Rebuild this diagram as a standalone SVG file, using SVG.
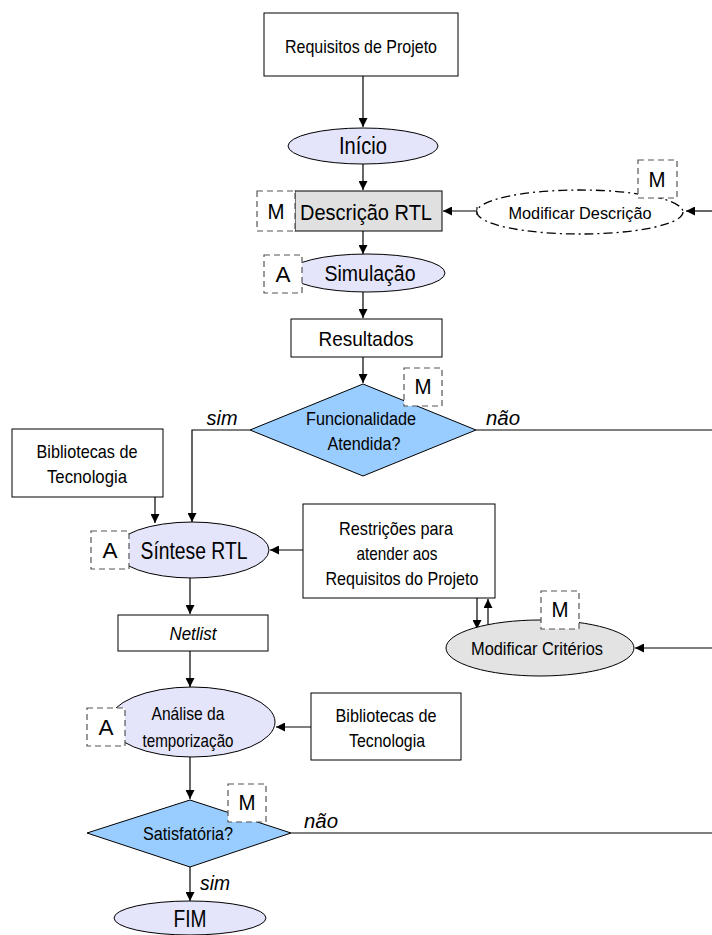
<svg xmlns="http://www.w3.org/2000/svg" width="712" height="935" viewBox="0 0 712 935">
  <style>
    text { font-family: "Liberation Sans", Arial, sans-serif; fill: #000; text-anchor: middle; dominant-baseline: central; }
    .box { fill: #fff; stroke: #000; stroke-width: 1; }
    .grey { fill: #e0e0e0; stroke: #000; stroke-width: 1; }
    .oval { fill: #e4e4fa; stroke: #000; stroke-width: 1; }
    .oval-grey { fill: #e3e3e3; stroke: #000; stroke-width: 1; }
    .diamond { fill: #99ccff; stroke: #000; stroke-width: 1; }
    .tag { fill: #fff; stroke: #555; stroke-width: 1.2; stroke-dasharray: 6 4; }
    .wire { fill: none; stroke: #000; stroke-width: 1.2; }
    .lbl { font-style: italic; font-size: 20px; }
  </style>
  <defs>
    <marker id="arrow" viewBox="0 0 10 10" refX="10" refY="5" markerWidth="9" markerHeight="9" markerUnits="userSpaceOnUse" orient="auto">
      <path d="M0,0 L10,5 L0,10 z" fill="#000"/>
    </marker>
  </defs>

  <!-- connectors -->
  <g id="connectors">
    <line class="wire" x1="363" y1="76" x2="363" y2="127" marker-end="url(#arrow)"/>
    <line class="wire" x1="363" y1="164" x2="363" y2="190" marker-end="url(#arrow)"/>
    <line class="wire" x1="363" y1="231" x2="363" y2="254" marker-end="url(#arrow)"/>
    <line class="wire" x1="363" y1="292" x2="363" y2="318" marker-end="url(#arrow)"/>
    <line class="wire" x1="363" y1="357" x2="363" y2="383" marker-end="url(#arrow)"/>
    <!-- Modificar Descrição -> Descrição RTL -->
    <line class="wire" x1="477" y1="211" x2="443" y2="211" marker-end="url(#arrow)"/>
    <line class="wire" x1="477" y1="207" x2="477" y2="215"/>
    <line class="wire" x1="712" y1="211" x2="686" y2="211" marker-end="url(#arrow)"/>
    <!-- sim / não branches -->
    <polyline class="wire" points="250,430 192,430 192,522" marker-end="url(#arrow)"/>
    <line class="wire" x1="476" y1="430" x2="712" y2="430"/>
    <line class="wire" x1="155" y1="497" x2="155" y2="523" marker-end="url(#arrow)"/>
    <line class="wire" x1="303" y1="550" x2="270" y2="550" marker-end="url(#arrow)"/>
    <line class="wire" x1="477" y1="598" x2="477" y2="629" marker-end="url(#arrow)"/>
    <line class="wire" x1="488" y1="625" x2="488" y2="599" marker-end="url(#arrow)"/>
    <line class="wire" x1="712" y1="648" x2="635" y2="648" marker-end="url(#arrow)"/>
    <line class="wire" x1="190" y1="578" x2="190" y2="614" marker-end="url(#arrow)"/>
    <line class="wire" x1="190" y1="651" x2="190" y2="687" marker-end="url(#arrow)"/>
    <line class="wire" x1="311" y1="727" x2="276" y2="727" marker-end="url(#arrow)"/>
    <line class="wire" x1="190" y1="757" x2="190" y2="799" marker-end="url(#arrow)"/>
    <line class="wire" x1="291" y1="833" x2="712" y2="833"/>
    <line class="wire" x1="190" y1="867" x2="190" y2="901" marker-end="url(#arrow)"/>
    <text class="lbl" x="222" y="418" textLength="31" lengthAdjust="spacingAndGlyphs">sim</text>
    <text class="lbl" x="503" y="418" textLength="34" lengthAdjust="spacingAndGlyphs">não</text>
    <text class="lbl" x="321" y="821" textLength="34" lengthAdjust="spacingAndGlyphs">não</text>
    <text class="lbl" x="215" y="883" textLength="30" lengthAdjust="spacingAndGlyphs">sim</text>
  </g>

  <g id="requisitos">
    <rect class="box" x="264" y="13" width="194" height="63"/>
    <text x="361" y="46" font-size="19" textLength="152" lengthAdjust="spacingAndGlyphs">Requisitos de Projeto</text>
  </g>

  <g id="inicio">
    <ellipse class="oval" cx="363" cy="146" rx="75" ry="18"/>
    <text x="363" y="146" font-size="23" textLength="48" lengthAdjust="spacingAndGlyphs">Início</text>
  </g>

  <g id="descricao-rtl">
    <rect class="grey" x="295" y="191" width="147" height="40"/>
    <rect class="tag" x="257" y="191" width="38" height="40"/>
    <text x="276" y="211" font-size="22" textLength="17" lengthAdjust="spacingAndGlyphs">M</text>
    <text x="366" y="212" font-size="22" textLength="132" lengthAdjust="spacingAndGlyphs">Descrição RTL</text>
  </g>

  <g id="modificar-descricao">
    <ellipse cx="580" cy="212" rx="103" ry="22" fill="#fff" stroke="#000" stroke-width="1.3" stroke-dasharray="9 4 2 4"/>
    <text x="580" y="213" font-size="17" textLength="143" lengthAdjust="spacingAndGlyphs">Modificar Descrição</text>
    <rect class="tag" x="638" y="160" width="39" height="38"/>
    <text x="657" y="179" font-size="22" textLength="17" lengthAdjust="spacingAndGlyphs">M</text>
  </g>

  <g id="simulacao">
    <ellipse class="oval" cx="367" cy="273" rx="78" ry="19"/>
    <rect class="tag" x="264" y="255" width="38" height="38"/>
    <text x="283" y="274" font-size="22" textLength="15" lengthAdjust="spacingAndGlyphs">A</text>
    <text x="370" y="273" font-size="22" textLength="91" lengthAdjust="spacingAndGlyphs">Simulação</text>
  </g>

  <g id="resultados">
    <rect class="box" x="291" y="319" width="151" height="38"/>
    <text x="366" y="338" font-size="21" textLength="95" lengthAdjust="spacingAndGlyphs">Resultados</text>
  </g>

  <g id="funcionalidade">
    <polygon class="diamond" points="363,384 476,430 363,476 250,430"/>
    <rect class="tag" x="404" y="368" width="38" height="38"/>
    <text x="423" y="386" font-size="22" textLength="17" lengthAdjust="spacingAndGlyphs">M</text>
    <text x="361" y="419" font-size="18" textLength="110" lengthAdjust="spacingAndGlyphs">Funcionalidade</text>
    <text x="364" y="444" font-size="18" textLength="73" lengthAdjust="spacingAndGlyphs">Atendida?</text>
  </g>

  <g id="bibliotecas-1">
    <rect class="box" x="12" y="429" width="151" height="68"/>
    <text x="87" y="451" font-size="19" textLength="101" lengthAdjust="spacingAndGlyphs">Bibliotecas de</text>
    <text x="87" y="476" font-size="19" textLength="80" lengthAdjust="spacingAndGlyphs">Tecnologia</text>
  </g>

  <g id="sintese-rtl">
    <ellipse class="oval" cx="192" cy="550" rx="77" ry="28"/>
    <rect class="tag" x="91" y="531" width="38" height="38"/>
    <text x="110" y="550" font-size="22" textLength="15" lengthAdjust="spacingAndGlyphs">A</text>
    <text x="194" y="551" font-size="23" textLength="107" lengthAdjust="spacingAndGlyphs">Síntese RTL</text>
  </g>

  <g id="restricoes">
    <rect class="box" x="303" y="504" width="192" height="94"/>
    <text x="396" y="528" font-size="19" textLength="114" lengthAdjust="spacingAndGlyphs">Restrições para</text>
    <text x="397" y="553" font-size="19" textLength="81" lengthAdjust="spacingAndGlyphs">atender aos</text>
    <text x="402" y="578" font-size="19" textLength="153" lengthAdjust="spacingAndGlyphs">Requisitos do Projeto</text>
  </g>

  <g id="modificar-criterios">
    <ellipse class="oval-grey" cx="540" cy="648" rx="94" ry="28"/>
    <rect class="tag" x="541" y="591" width="38" height="38"/>
    <text x="560" y="609" font-size="22" textLength="17" lengthAdjust="spacingAndGlyphs">M</text>
    <text x="537" y="649" font-size="18" textLength="132" lengthAdjust="spacingAndGlyphs">Modificar Critérios</text>
  </g>

  <g id="netlist">
    <rect class="box" x="118" y="615" width="150" height="36"/>
    <text x="193" y="633" font-size="19" font-style="italic" textLength="47" lengthAdjust="spacingAndGlyphs">Netlist</text>
  </g>

  <g id="analise">
    <ellipse class="oval" cx="192" cy="722" rx="83" ry="35"/>
    <rect class="tag" x="87" y="708" width="38" height="38"/>
    <text x="106" y="727" font-size="22" textLength="15" lengthAdjust="spacingAndGlyphs">A</text>
    <text x="188" y="713" font-size="19" textLength="73" lengthAdjust="spacingAndGlyphs">Análise da</text>
    <text x="188" y="740" font-size="19" textLength="91" lengthAdjust="spacingAndGlyphs">temporização</text>
  </g>

  <g id="bibliotecas-2">
    <rect class="box" x="311" y="693" width="150" height="67"/>
    <text x="386" y="715" font-size="19" textLength="101" lengthAdjust="spacingAndGlyphs">Bibliotecas de</text>
    <text x="387" y="740" font-size="19" textLength="76" lengthAdjust="spacingAndGlyphs">Tecnologia</text>
  </g>

  <g id="satisfatoria">
    <polygon class="diamond" points="190,800 291,833 190,867 87,833"/>
    <rect class="tag" x="228" y="784" width="38" height="38"/>
    <text x="247" y="802" font-size="22" textLength="17" lengthAdjust="spacingAndGlyphs">M</text>
    <text x="188" y="834" font-size="18" textLength="90" lengthAdjust="spacingAndGlyphs">Satisfatória?</text>
  </g>

  <g id="fim">
    <ellipse class="oval" cx="190" cy="918" rx="76" ry="17"/>
    <text x="190" y="919" font-size="23" textLength="33" lengthAdjust="spacingAndGlyphs">FIM</text>
  </g>
</svg>
